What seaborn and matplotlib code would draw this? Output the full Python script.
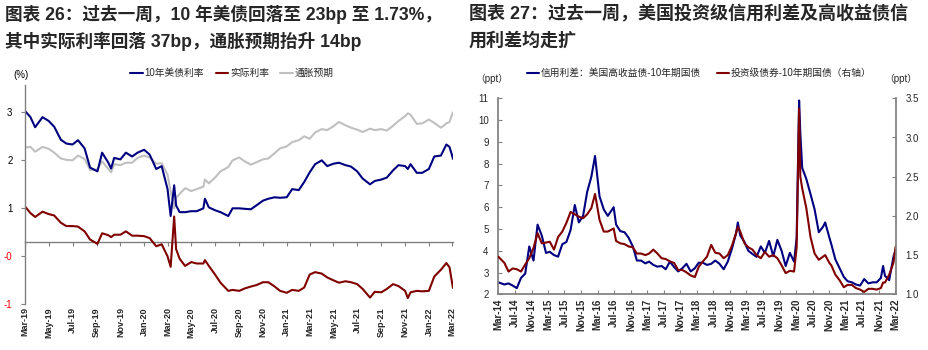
import matplotlib
matplotlib.use("Agg")
import numpy as np
import pandas as pd
import matplotlib.pyplot as plt
import matplotlib.dates as mdates
import seaborn as sns

sns.set_theme(style="white")
plt.rcParams["font.family"] = ["Liberation Sans", "Noto Sans CJK SC"]
plt.rcParams["axes.unicode_minus"] = False

# ---------------- data: left chart ----------------
left_dates = [
    "2019-03-01", "2019-03-15", "2019-03-27", "2019-04-15", "2019-05-01", "2019-05-15", "2019-06-01",
    "2019-06-15", "2019-07-01", "2019-07-15", "2019-08-01", "2019-08-15", "2019-09-03", "2019-09-15",
    "2019-10-01", "2019-10-08", "2019-10-16", "2019-11-01", "2019-11-15", "2019-12-01", "2019-12-15",
    "2020-01-01", "2020-01-15", "2020-02-01", "2020-02-15", "2020-03-01", "2020-03-09", "2020-03-18",
    "2020-03-23", "2020-04-01", "2020-04-15", "2020-05-01", "2020-05-15", "2020-06-01", "2020-06-05",
    "2020-06-15", "2020-07-01", "2020-07-15", "2020-08-04", "2020-08-15", "2020-09-01", "2020-09-15",
    "2020-10-01", "2020-10-15", "2020-11-01", "2020-11-15", "2020-12-01", "2020-12-15",
    "2021-01-01", "2021-01-15", "2021-02-01", "2021-02-15", "2021-03-01", "2021-03-15", "2021-04-01",
    "2021-04-15", "2021-05-01", "2021-05-15", "2021-06-01", "2021-06-15", "2021-07-01", "2021-07-15",
    "2021-08-03", "2021-08-15", "2021-09-01", "2021-09-15", "2021-10-01", "2021-10-15", "2021-11-01",
    "2021-11-08", "2021-11-15", "2021-12-01", "2021-12-15",
    "2022-01-01", "2022-01-15", "2022-02-01", "2022-02-15", "2022-02-23", "2022-03-01", "2022-03-04",
]
us10y = [
    2.73, 2.60, 2.39, 2.60, 2.52, 2.40, 2.13, 2.05, 2.03, 2.12, 1.95, 1.55, 1.47, 1.86, 1.65, 1.53, 1.75,
    1.72, 1.86, 1.78, 1.86,
    1.92, 1.82, 1.52, 1.58, 1.10, 0.54, 1.18, 0.76, 0.62, 0.62, 0.64, 0.64, 0.70, 0.90, 0.72, 0.66, 0.62,
    0.54, 0.70, 0.70, 0.69, 0.68, 0.76, 0.86, 0.90, 0.93, 0.92,
    0.93, 1.10, 1.08, 1.25, 1.45, 1.62, 1.70, 1.58, 1.63, 1.65, 1.60, 1.57, 1.47, 1.32, 1.20, 1.27, 1.30,
    1.34, 1.49, 1.60, 1.58, 1.52, 1.62, 1.44, 1.44,
    1.52, 1.78, 1.80, 2.03, 1.98, 1.82, 1.73,
]
real_rate = [
    0.74, 0.60, 0.52, 0.63, 0.58, 0.55, 0.40, 0.33, 0.33, 0.32, 0.22, 0.05, -0.04, 0.18, 0.14, 0.10, 0.15,
    0.15, 0.22, 0.13, 0.13,
    0.12, 0.08, -0.09, -0.05, -0.30, -0.52, 0.53, -0.15, -0.35, -0.50, -0.42, -0.45, -0.45, -0.38, -0.50,
    -0.68, -0.85, -1.02, -1.00, -1.02, -0.97, -0.93, -0.90, -0.84, -0.84, -0.93, -1.02,
    -1.06, -1.00, -1.02, -0.95, -0.68, -0.63, -0.66, -0.74, -0.80, -0.85, -0.82, -0.84, -0.88, -0.98,
    -1.16, -1.04, -1.05, -0.98, -0.88, -0.92, -1.02, -1.17, -1.05, -1.02, -1.03,
    -1.02, -0.72, -0.58, -0.44, -0.53, -0.82, -0.96,
]
breakeven = [
    1.97, 1.98, 1.88, 1.98, 1.94, 1.86, 1.74, 1.71, 1.70, 1.80, 1.73, 1.50, 1.51, 1.68, 1.52, 1.45, 1.62,
    1.60, 1.65, 1.65, 1.75,
    1.80, 1.76, 1.63, 1.64, 1.40, 1.05, 0.70, 0.92, 1.00, 1.12, 1.06, 1.10, 1.15, 1.30, 1.22, 1.34, 1.47,
    1.56, 1.70, 1.76, 1.68, 1.61, 1.66, 1.72, 1.74, 1.85, 1.95,
    1.99, 2.08, 2.12, 2.20, 2.15, 2.28, 2.35, 2.33, 2.41, 2.50, 2.43, 2.38, 2.34, 2.29, 2.36, 2.33, 2.35,
    2.32, 2.42, 2.52, 2.62, 2.68, 2.65, 2.46, 2.47,
    2.55, 2.48, 2.38, 2.47, 2.50, 2.64, 2.70,
]
left_series_names = ["10年美债利率", "实际利率", "通胀预期"]
left_ytick_vals = [-1.3, -0.3, 0.7, 1.7, 2.7]
left_ytick_labels = ["-1", "-0", "1", "2", "3"]

# ---------------- data: right chart ----------------
right_dates = [
    "2014-03-01", "2014-04-15", "2014-05-15", "2014-06-15", "2014-07-15", "2014-08-15", "2014-09-15",
    "2014-10-15", "2014-11-15", "2014-12-15",
    "2015-01-15", "2015-02-15", "2015-03-15", "2015-04-15", "2015-05-15", "2015-06-15", "2015-07-15",
    "2015-08-15", "2015-09-15", "2015-10-15", "2015-11-15", "2015-12-15",
    "2016-01-15", "2016-02-11", "2016-03-15", "2016-04-15", "2016-05-15", "2016-06-27", "2016-07-15",
    "2016-08-15", "2016-09-15", "2016-10-15", "2016-11-15", "2016-12-15",
    "2017-01-15", "2017-02-15", "2017-03-15", "2017-04-15", "2017-05-15", "2017-06-15", "2017-07-15",
    "2017-08-15", "2017-09-15", "2017-10-15", "2017-11-15", "2017-12-15",
    "2018-01-15", "2018-02-15", "2018-03-15", "2018-04-15", "2018-05-15", "2018-06-15", "2018-07-15",
    "2018-08-15", "2018-09-15", "2018-10-15", "2018-11-15", "2018-12-15", "2018-12-28",
    "2019-01-15", "2019-02-15", "2019-03-15", "2019-04-15", "2019-05-15", "2019-06-15", "2019-07-15",
    "2019-08-15", "2019-09-15", "2019-10-15", "2019-11-15", "2019-12-15",
    "2020-01-15", "2020-02-15", "2020-03-05", "2020-03-23", "2020-04-01", "2020-04-15", "2020-05-15",
    "2020-06-15", "2020-07-15", "2020-08-15", "2020-09-15", "2020-10-01", "2020-11-01", "2020-11-15",
    "2020-12-15",
    "2021-01-15", "2021-02-15", "2021-03-15", "2021-04-15", "2021-05-15", "2021-06-15", "2021-07-15",
    "2021-08-15", "2021-09-15", "2021-10-15", "2021-11-15", "2021-12-01", "2021-12-15",
    "2022-01-15", "2022-02-15", "2022-03-04",
]
hy_spread = [
    2.55, 2.45, 2.50, 2.40, 2.28, 2.75, 2.95, 4.20, 3.55, 5.20,
    4.70, 3.90, 3.95, 3.80, 3.73, 4.30, 4.40, 4.95, 6.10, 5.30, 5.60, 6.70,
    7.40, 8.35, 6.50, 5.90, 5.60, 6.00, 5.20, 4.90, 4.85, 4.60, 4.20, 3.55,
    3.55, 3.42, 3.50, 3.35, 3.27, 3.30, 3.15, 3.50, 3.25, 3.05, 3.20, 3.40,
    3.05, 3.20, 3.45, 3.45, 3.35, 3.40, 3.55, 3.40, 3.15, 3.50, 4.10, 4.80, 5.30,
    4.70, 4.40, 4.00, 3.85, 3.72, 4.20, 3.90, 4.45, 3.75, 4.50, 4.00, 3.30,
    3.90, 3.50, 4.60, 10.90, 9.40, 7.80, 7.30, 6.60, 5.90, 4.85, 5.10, 5.30, 4.60, 4.30, 3.60,
    3.20, 2.80, 2.60, 2.55, 2.45, 2.40, 2.70, 2.50, 2.55, 2.55, 2.75, 3.30, 2.85,
    2.65, 3.70, 4.05,
]
ig_spread = [
    1.48, 1.40, 1.29, 1.33, 1.32, 1.29, 1.38, 1.46, 1.59, 1.78,
    1.65, 1.66, 1.67, 1.57, 1.73, 1.80, 1.91, 2.05, 2.02, 1.99, 1.97, 2.02,
    2.10, 2.28, 1.95, 1.80, 1.80, 1.84, 1.68, 1.65, 1.64, 1.61, 1.60, 1.52,
    1.52, 1.50, 1.52, 1.57, 1.52, 1.46, 1.45, 1.42, 1.40, 1.31, 1.31, 1.28,
    1.24, 1.22, 1.35, 1.42, 1.48, 1.63, 1.53, 1.52, 1.46, 1.50, 1.62, 1.78, 1.86,
    1.80, 1.65, 1.60, 1.57, 1.50, 1.46, 1.54, 1.48, 1.50, 1.46, 1.37, 1.27,
    1.30, 1.29, 1.60, 3.37, 2.50, 2.35, 2.10, 1.73, 1.52, 1.44, 1.48, 1.50, 1.40, 1.37, 1.25,
    1.18, 1.09, 1.12, 1.12, 1.08, 1.06, 1.03, 1.07, 1.07, 1.06, 1.08, 1.15, 1.15,
    1.25, 1.40, 1.61,
]
right_series_names = ["信用利差：美国高收益债-10年期国债", "投资级债券-10年期国债（右轴）"]

titles_left = ["图表 26：过去一周，10 年美债回落至 23bp 至 1.73%，", "其中实际利率回落 37bp，通胀预期抬升 14bp"]
titles_right = ["图表 27：过去一周，美国投资级信用利差及高收益债信", "用利差均走扩"]

# ---------------- style ----------------
NAVY = "#000080"
DRED = "#800000"
LGRAY = "#C0C0C0"
SPINE = "#808080"
W, H = 929, 350

fig = plt.figure(figsize=(W / 100, H / 100), dpi=100)
fig.patch.set_facecolor("white")

# ================= left chart =================
ax1 = fig.add_axes([25 / W, 1 - 304.3 / H, 428 / W, (304.3 - 85) / H])
df1 = pd.DataFrame({"date": pd.to_datetime(left_dates), "us10y": us10y,
                    "real": real_rate, "be": breakeven})
sns.lineplot(data=df1, x="date", y="be", ax=ax1, color=LGRAY, lw=1.5, label=left_series_names[2])
sns.lineplot(data=df1, x="date", y="us10y", ax=ax1, color=NAVY, lw=1.5, label=left_series_names[0])
sns.lineplot(data=df1, x="date", y="real", ax=ax1, color=DRED, lw=1.5, label=left_series_names[1])
h1, l1 = ax1.get_legend_handles_labels()
ax1.get_legend().remove()
order = [1, 2, 0]
y0, y1 = -1.3, 3.27
ax1.set_ylim(y0, y1)
ax1.set_xlim(pd.Timestamp("2019-03-01"), pd.Timestamp("2022-03-04"))
ax1.set_xlabel("")
ax1.set_ylabel("")
ax1.set_yticks(left_ytick_vals)
ax1.set_yticklabels(left_ytick_labels)
for t, lab in zip(ax1.get_yticklabels(), left_ytick_labels):
    t.set_color("#FF0000" if lab.startswith("-") else "#000000")
ax1.tick_params(axis="y", direction="out", length=3, width=0.8, color=SPINE, labelsize=7, pad=6, left=True)
lticks = pd.date_range("2019-03-01", "2022-03-01", freq="2MS")
ax1.set_xticks(lticks)
ax1.set_xticklabels([d.strftime("%b-%y") for d in lticks], rotation=90, fontsize=6.5, fontweight="bold")
ax1.tick_params(axis="x", length=0, pad=2, bottom=True)
for s in ["top", "right", "bottom"]:
    ax1.spines[s].set_visible(False)
ax1.spines["left"].set_color(SPINE)
ax1.spines["left"].set_linewidth(1.0)
ax1.grid(False)
sec = ax1.secondary_xaxis((0 - y0) / (y1 - y0))
sec.set_xticks(mdates.date2num(lticks))
sec.tick_params(axis="x", direction="out", length=3, width=0.8, color=SPINE, labelbottom=False, labeltop=False)
sec.spines["bottom"].set_color(SPINE)
sec.spines["bottom"].set_linewidth(1.0)
sec.spines["top"].set_visible(False)

fig.legend([h1[i] for i in order], [l1[i] for i in order], loc="center", bbox_to_anchor=(232 / W, 1 - 73 / H),
           ncol=3, frameon=False, fontsize=7, handlelength=1.3, handletextpad=0.15, columnspacing=1.2,
           borderpad=0, borderaxespad=0)
fig.text(13 / W, 1 - 75 / H, "(%)", fontsize=7, ha="left", va="center", color="#000000")

# ================= right chart =================
ax2 = fig.add_axes([498.3 / W, 1 - 294.3 / H, 397.4 / W, 196 / H])
ax2r = ax2.twinx()
df2 = pd.DataFrame({"date": pd.to_datetime(right_dates), "hy": hy_spread, "ig": ig_spread})
sns.lineplot(data=df2, x="date", y="hy", ax=ax2, color=NAVY, lw=1.5, label=right_series_names[0])
sns.lineplot(data=df2, x="date", y="ig", ax=ax2r, color=DRED, lw=1.5, label=right_series_names[1])
h2, l2 = ax2.get_legend_handles_labels()
h3, l3 = ax2r.get_legend_handles_labels()
ax2.get_legend().remove()
ax2r.get_legend().remove()
ax2.set_ylim(2, 11)
ax2r.set_ylim(1.0, 3.5)
ax2.set_xlim(pd.Timestamp("2014-03-01"), pd.Timestamp("2022-03-04"))
ax2.set_yticks(np.arange(2, 12, 1))
ax2.set_yticklabels([f"{v:d}" for v in range(2, 12)])
ax2r.set_yticks(np.arange(1.0, 3.51, 0.5))
ax2r.set_yticklabels([f"{v:.1f}" for v in np.arange(1.0, 3.51, 0.5)])
rticks = pd.date_range("2014-03-01", "2022-03-01", freq="4MS")
ax2.set_xticks(rticks)
ax2.set_xticklabels([d.strftime("%b-%y") for d in rticks], rotation=90, fontsize=7, fontweight="bold")
for a in (ax2, ax2r):
    a.set_xlabel("")
    a.set_ylabel("")
    a.grid(False)
ax2.tick_params(axis="y", direction="in", length=3, width=0.8, color=SPINE, labelsize=7, pad=7, left=True)
ax2.tick_params(axis="x", direction="in", length=3, width=0.8, color=SPINE, pad=3, bottom=True)
ax2r.tick_params(axis="y", direction="in", length=3, width=0.8, color=SPINE, labelsize=7, pad=7, right=True)
ax2.spines["top"].set_visible(False)
ax2.spines["right"].set_visible(False)
for s in ["left", "bottom"]:
    ax2.spines[s].set_color(SPINE)
for s in ["top", "left", "bottom"]:
    ax2r.spines[s].set_visible(False)
ax2r.spines["right"].set_color(SPINE)

fig.legend(h2 + h3, l2 + l3, loc="center", bbox_to_anchor=(699 / W, 1 - 73 / H), ncol=2, frameon=False,
           fontsize=7, handlelength=1.3, handletextpad=0.15, columnspacing=1.6, borderpad=0, borderaxespad=0)
fig.text(492 / W, 1 - 79 / H, "（ppt）", fontsize=7, ha="center", va="center")
fig.text(901 / W, 1 - 79 / H, "（ppt）", fontsize=7, ha="center", va="center")

# ================= titles =================
fig.text(5 / W, 1 - 14 / H, titles_left[0], fontsize=12.7, fontweight="bold", ha="left", va="center")
fig.text(5 / W, 1 - 41 / H, titles_left[1], fontsize=12.7, fontweight="bold", ha="left", va="center")
fig.text(469 / W, 1 - 14 / H, titles_right[0], fontsize=13, fontweight="bold", ha="left", va="center")
fig.text(469 / W, 1 - 41 / H, titles_right[1], fontsize=13, fontweight="bold", ha="left", va="center")

fig.savefig("out.png", dpi=100, facecolor="white")
